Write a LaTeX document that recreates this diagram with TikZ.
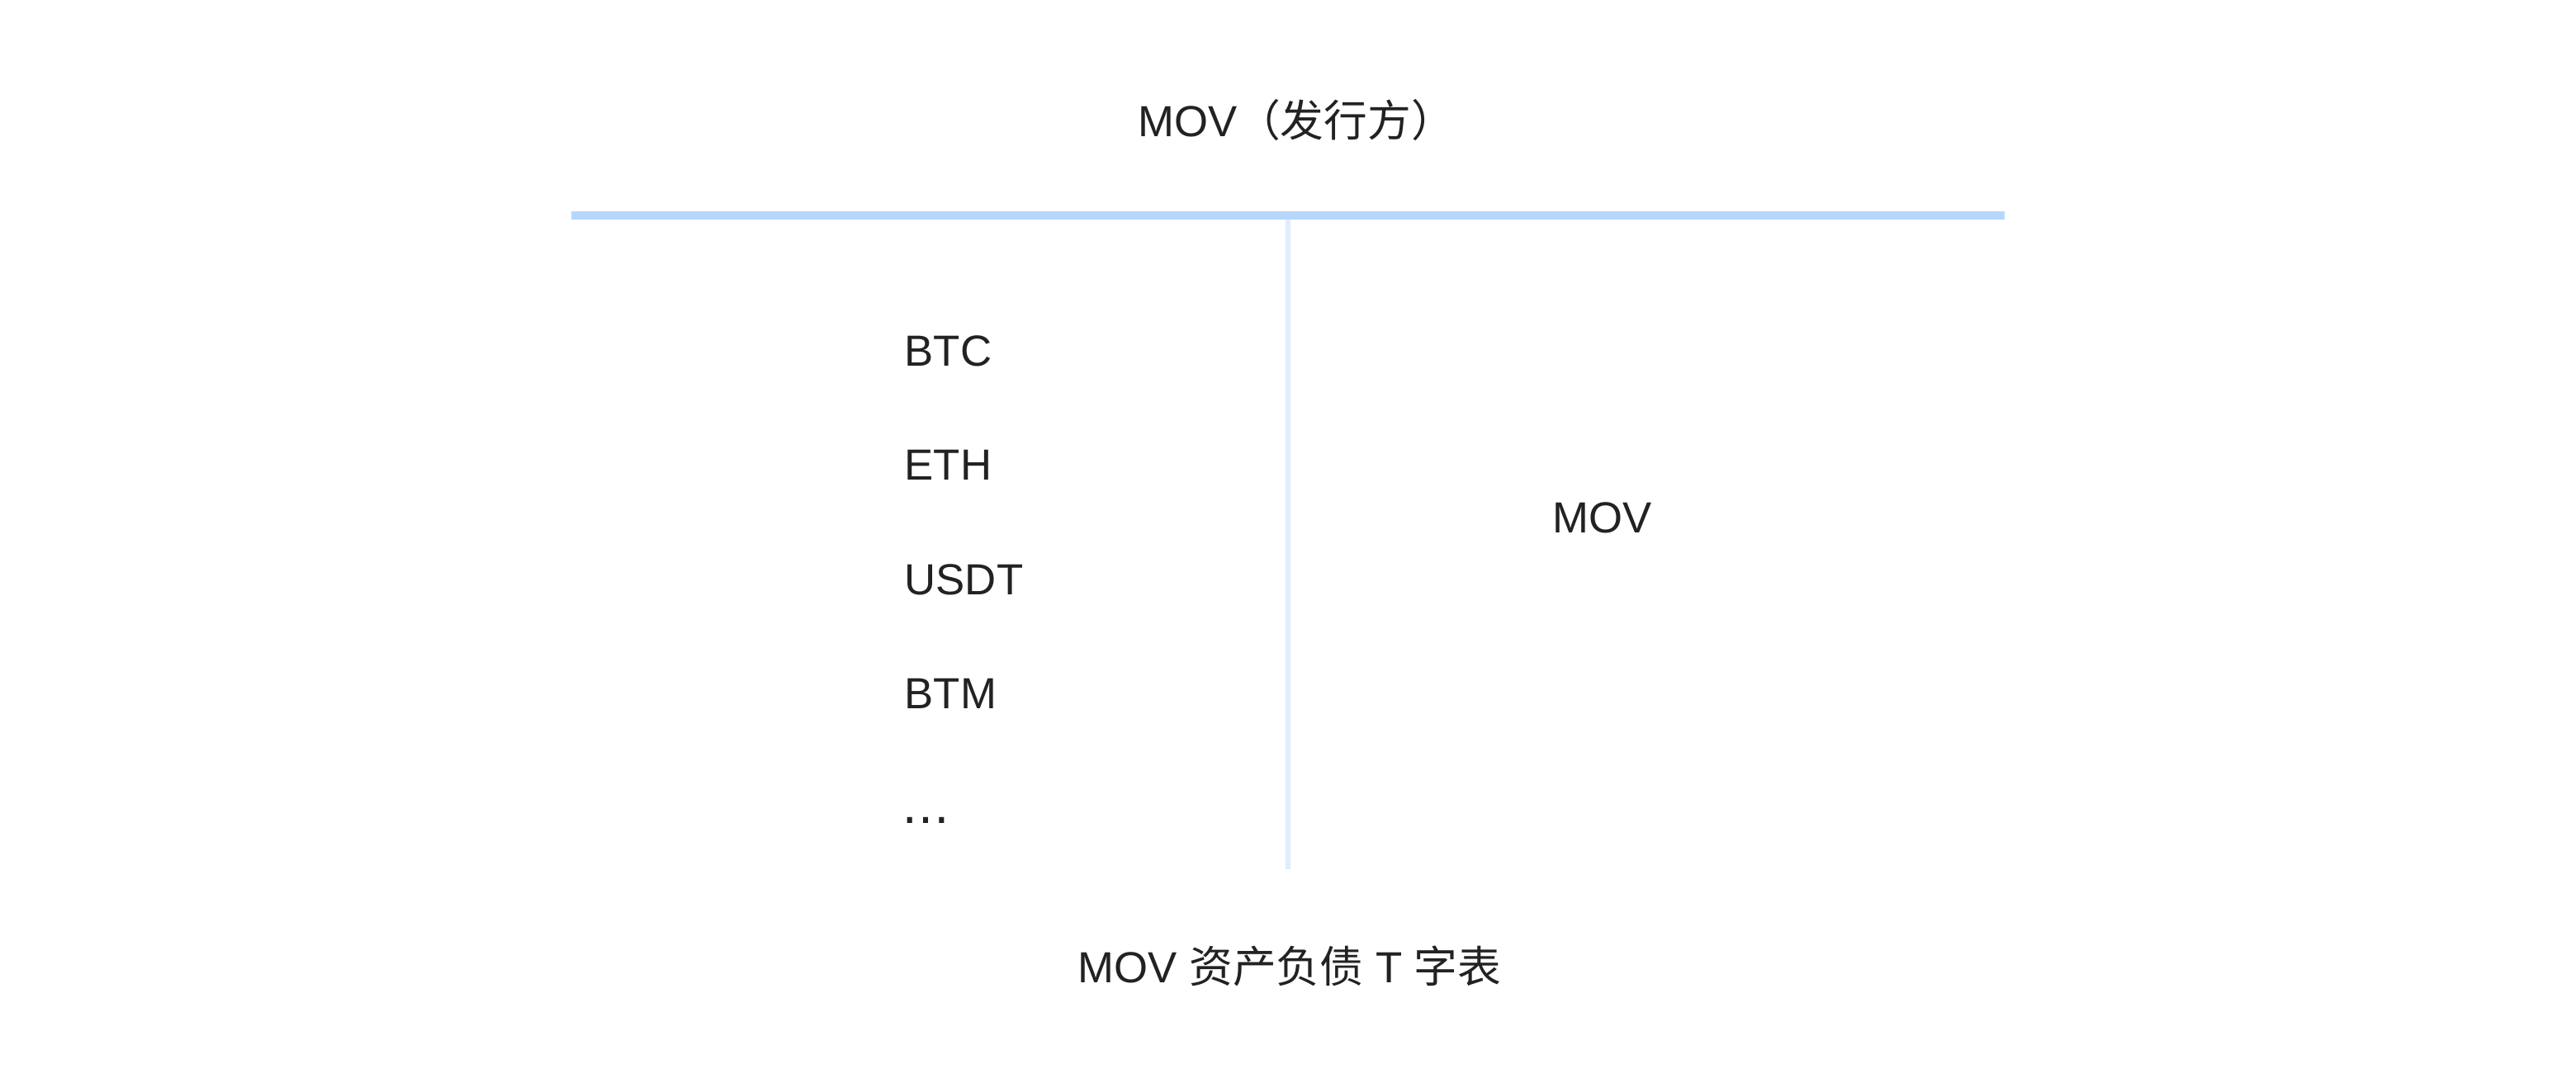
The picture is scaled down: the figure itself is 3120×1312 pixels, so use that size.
\documentclass[tikz,border=0pt]{standalone}
\usepackage{fontspec}
\setmainfont{Liberation Sans}
\newfontfamily\cjk{Noto Sans CJK SC}
\newfontfamily\dotsfont{DejaVu Sans}
\usepackage{xcolor}
\usepackage{tikz}
\definecolor{tbar}{HTML}{B6D6FB}
\definecolor{tstem}{HTML}{E1EDFD}
\definecolor{ink}{HTML}{222222}

\begin{document}
\begin{tikzpicture}[x=0.01cm,y=-0.01cm,font=\fontsize{15}{18}\selectfont,
  lbl/.style={text=ink,inner sep=0pt,anchor=base},
  item/.style={lbl,anchor=base west}]
  \useasboundingbox[fill=white] (0,0) rectangle (3120,1312);
  % T account lines
  \coordinate (barL) at (692,261);
  \coordinate (barR) at (2428,261);
  \coordinate (stemT) at (1560,266);
  \coordinate (stemB) at (1560,1053);
  \draw[tbar,line width=0.1cm] (barL) -- (barR);
  \draw[tstem,line width=0.06cm] (stemT) -- (stemB);
  % header and caption
  \node[lbl] (issuer) at (1570,165) {MOV{\cjk （发行方）}};
  \node[lbl] (caption) at (1562,1190) {MOV {\cjk 资产负债} T {\cjk 字表}};
  % assets side
  \node[item] (btc)  at (1095,443)   {BTC};
  \node[item] (eth)  at (1095,581.5) {ETH};
  \node[item] (usdt) at (1095,720)   {USDT};
  \node[item] (btm)  at (1095,858.5) {BTM};
  \node[item] (more) at (1092,997)   {\dotsfont\fontsize{16.5}{18}\selectfont …};
  % liabilities side
  \node[lbl] (mov) at (1941,645) {MOV};
\end{tikzpicture}
\end{document}
